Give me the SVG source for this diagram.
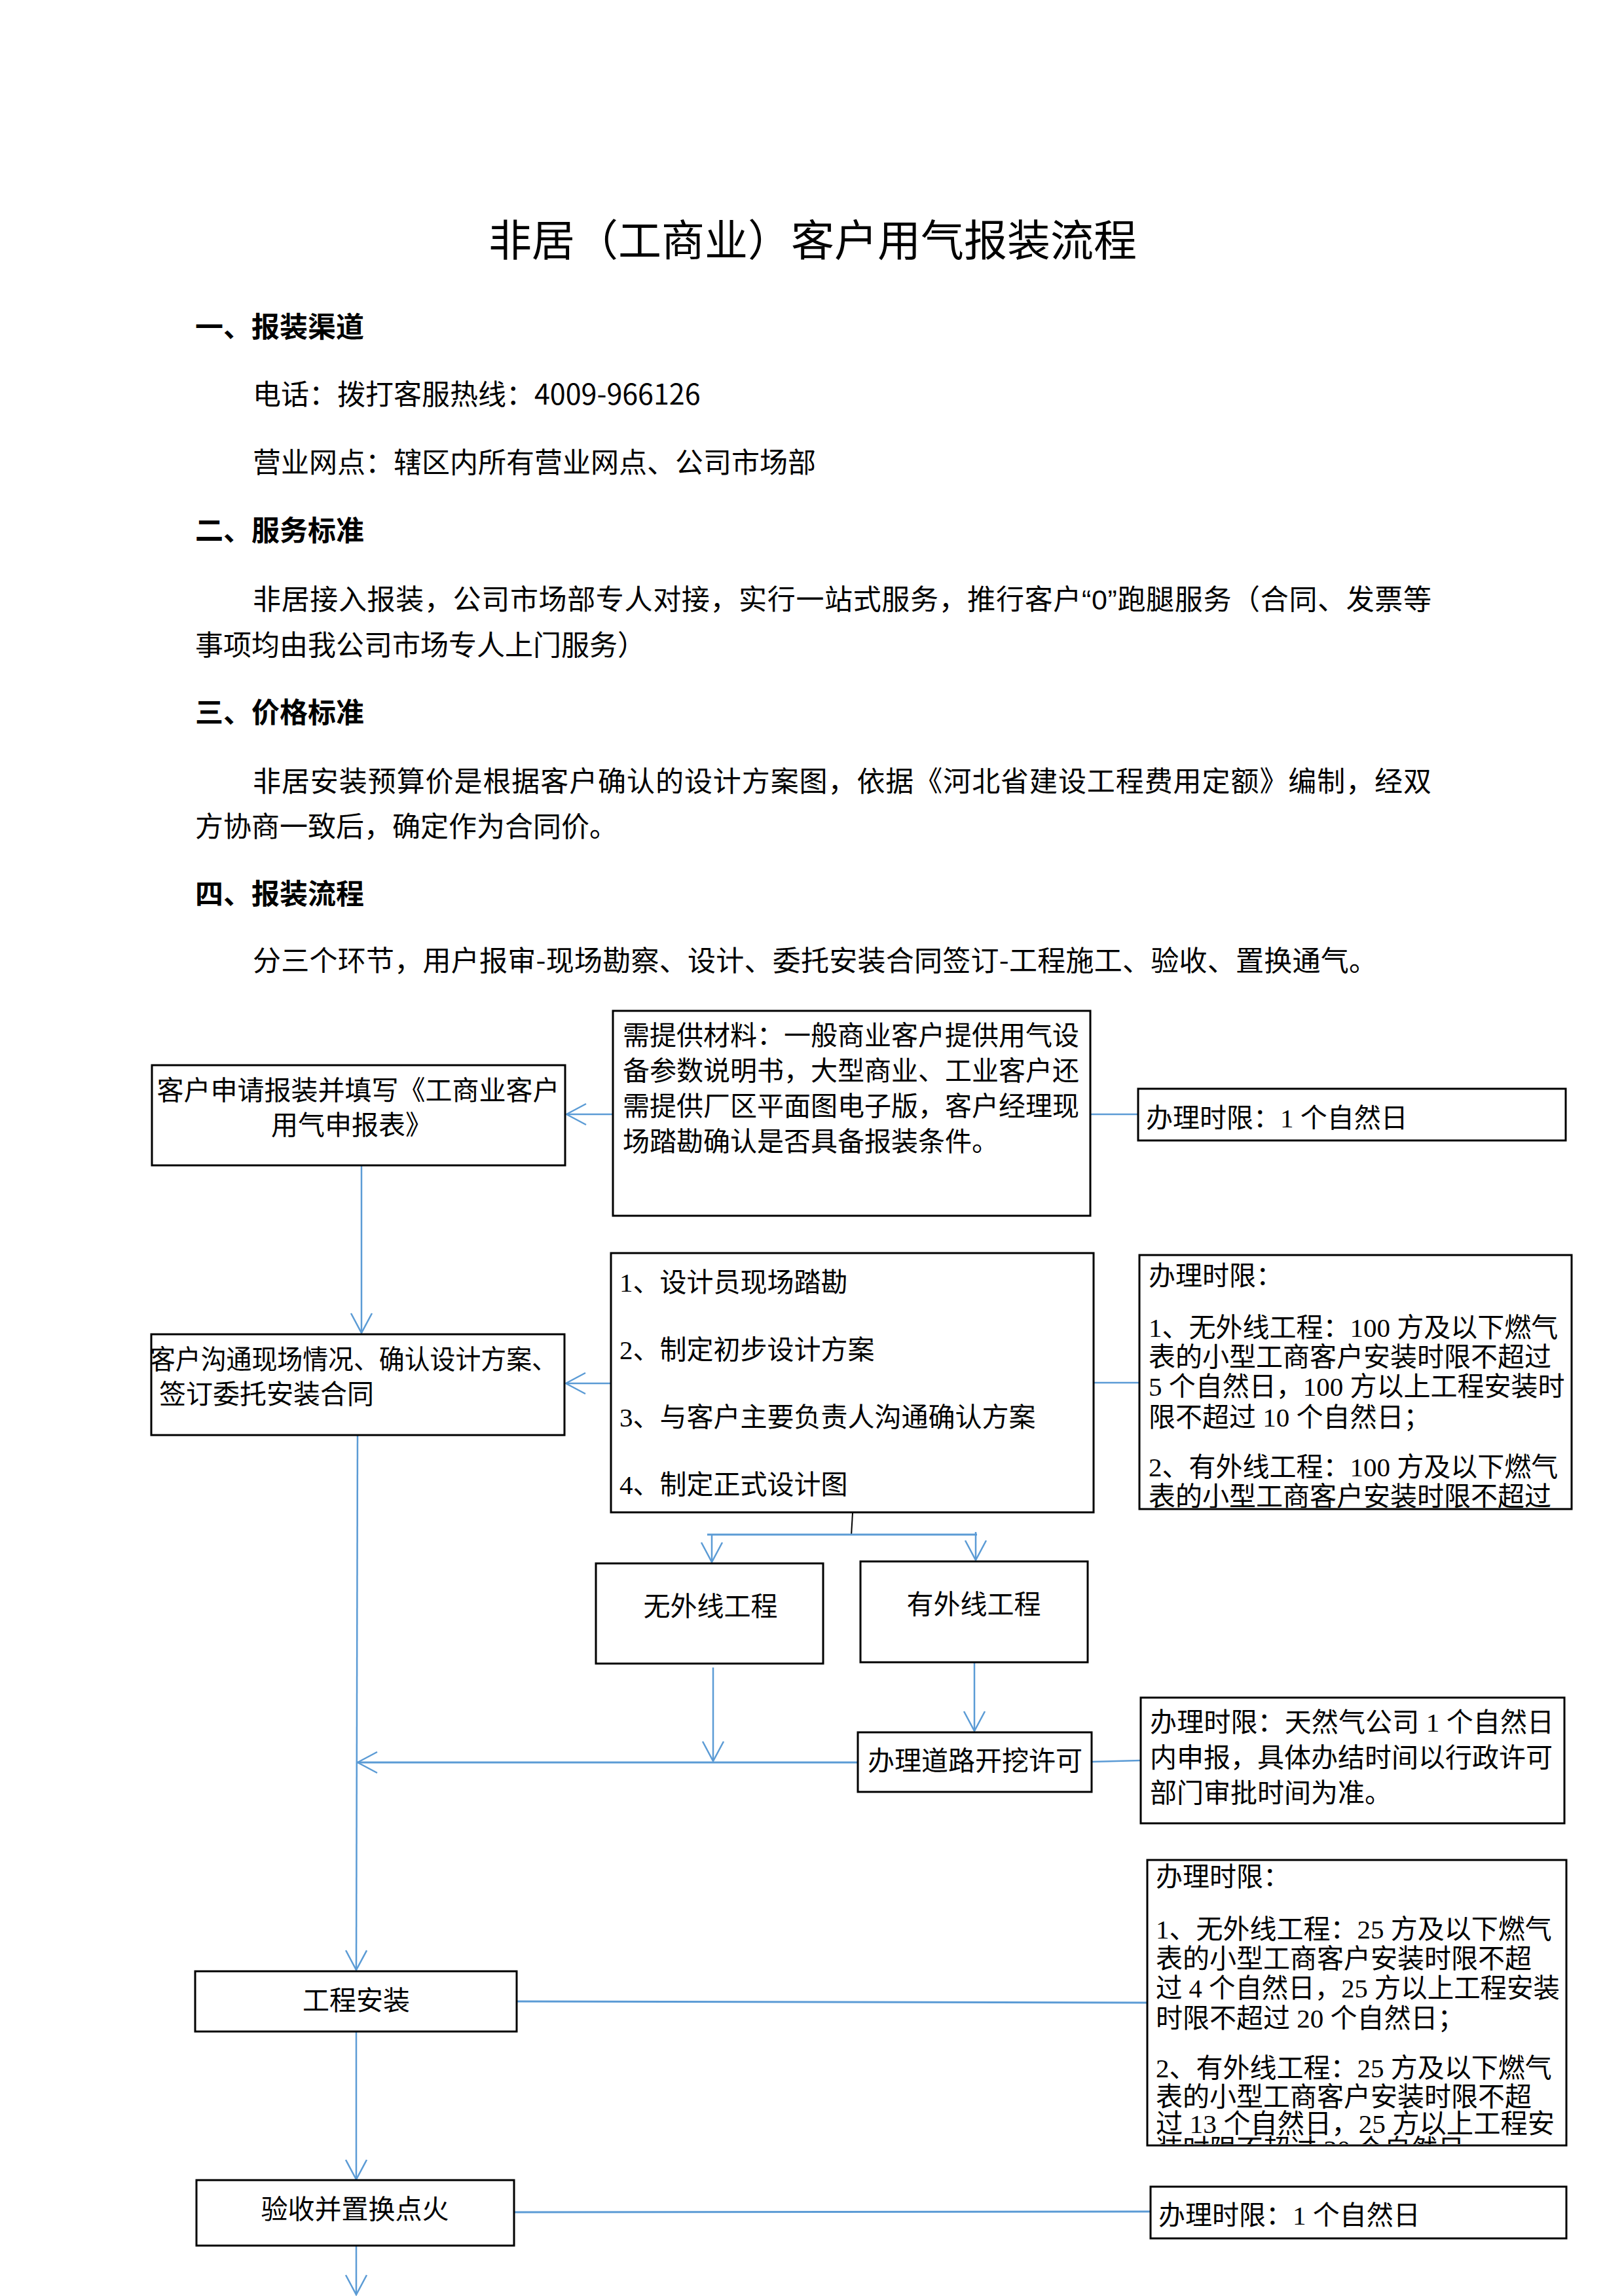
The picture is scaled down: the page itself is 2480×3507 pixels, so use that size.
<svg xmlns="http://www.w3.org/2000/svg" width="2480" height="3507" viewBox="0 0 2480 3507">
<style>
.box{fill:#fff;stroke:#000;stroke-width:3}
.h{font-family:"Noto Sans CJK SC",sans-serif;font-size:43px;font-weight:bold;fill:#000}
.b{font-family:"Noto Sans CJK SC",sans-serif;font-size:43px;fill:#000}
.q{font-family:"Liberation Sans",sans-serif}
.t{font-family:"Noto Sans CJK SC",sans-serif;font-size:41px;fill:#000}
.s{font-family:"Liberation Serif","Noto Sans CJK SC",serif;font-size:41px;fill:#000}
.c{stroke:#5B9BD5;stroke-width:2.5;fill:none}
.m{text-anchor:middle}
</style>
<defs>
<marker id="arr" viewBox="-34 -18 36 36" markerWidth="36" markerHeight="36" refX="0" refY="0" orient="auto" markerUnits="userSpaceOnUse">
<path d="M-30,-16 L0,0 L-30,16" fill="none" stroke="#5B9BD5" stroke-width="2.5"/>
</marker>
<clipPath id="clipL"><rect x="1753" y="2842" width="638" height="433"/></clipPath>
<clipPath id="clipF"><rect x="1741" y="1918" width="658" height="385"/></clipPath>
</defs>
<rect width="2480" height="3507" fill="#fff"/>

<g id="header">
<text x="1241" y="391" class="m" style="font-family:'Noto Sans CJK SC',sans-serif;font-size:66px;fill:#000">非居（工商业）客户用气报装流程</text>
<text x="298" y="515" class="h">一、报装渠道</text>
<text x="386" y="618" class="b">电话：拨打客服热线：4009-966126</text>
<text x="386" y="722" class="b">营业网点：辖区内所有营业网点、公司市场部</text>
<text x="298" y="826" class="h">二、服务标准</text>
<text x="386" y="931" class="b" textLength="1800" lengthAdjust="spacing">非居接入报装，公司市场部专人对接，实行一站式服务，推行客户<tspan class="q">“0”</tspan>跑腿服务（合同、发票等</text>
<text x="298" y="1001" class="b">事项均由我公司市场专人上门服务）</text>
<text x="298" y="1104" class="h">三、价格标准</text>
<text x="386" y="1209" class="b" textLength="1800" lengthAdjust="spacing">非居安装预算价是根据客户确认的设计方案图，依据《河北省建设工程费用定额》编制，经双</text>
<text x="298" y="1278" class="b">方协商一致后，确定作为合同价。</text>
<text x="298" y="1381" class="h">四、报装流程</text>
<text x="386" y="1483" class="b" textLength="1717" lengthAdjust="spacing">分三个环节，用户报审-现场勘察、设计、委托安装合同签订-工程施工、验收、置换通气。</text>
</g>

<g id="connectors">
<line class="c" x1="936" y1="1702" x2="865" y2="1702" marker-end="url(#arr)"/>
<line class="c" x1="1665" y1="1702" x2="1738" y2="1702"/>
<line class="c" x1="552" y1="1780" x2="552" y2="2036" marker-end="url(#arr)"/>
<line class="c" x1="933" y1="2113" x2="864" y2="2113" marker-end="url(#arr)"/>
<line class="c" x1="1670" y1="2112" x2="1740" y2="2112"/>
<line x1="1302" y1="2311" x2="1300" y2="2345" stroke="#000" stroke-width="2"/>
<line class="c" x1="1080" y1="2344" x2="1492" y2="2344" style="stroke-width:3"/>
<line class="c" x1="1087" y1="2344" x2="1087" y2="2386" marker-end="url(#arr)"/>
<line class="c" x1="1490" y1="2340" x2="1490" y2="2383" marker-end="url(#arr)"/>
<line class="c" x1="1089" y1="2547" x2="1089" y2="2690" marker-end="url(#arr)"/>
<line class="c" x1="1488" y1="2540" x2="1488" y2="2644" marker-end="url(#arr)"/>
<line class="c" x1="1310" y1="2692" x2="546" y2="2692" marker-end="url(#arr)" style="stroke-width:3"/>
<line class="c" x1="1667" y1="2691" x2="1742" y2="2689"/>
<line class="c" x1="546" y1="2192" x2="544" y2="3009" marker-end="url(#arr)"/>
<line class="c" x1="789" y1="3057" x2="1752" y2="3059" style="stroke-width:3"/>
<line class="c" x1="544" y1="3103" x2="544" y2="3329" marker-end="url(#arr)"/>
<line class="c" x1="785" y1="3379" x2="1757" y2="3378" style="stroke-width:3"/>
<line class="c" x1="544" y1="3430" x2="544" y2="3505" marker-end="url(#arr)"/>
</g>

<g id="nodeA">
<rect class="box" x="232" y="1627" width="631" height="153"/>
<text x="547" y="1680" class="t m">客户申请报装并填写《工商业客户</text>
<text x="537" y="1733" class="t m">用气申报表》</text>
</g>

<g id="nodeB">
<rect class="box" x="936" y="1544" width="729" height="313"/>
<text x="951" y="1596" class="t">需提供材料：一般商业客户提供用气设</text>
<text x="951" y="1650" class="t">备参数说明书，大型商业、工业客户还</text>
<text x="951" y="1704" class="t">需提供厂区平面图电子版，客户经理现</text>
<text x="951" y="1758" class="t">场踏勘确认是否具备报装条件。</text>
</g>

<g id="nodeC">
<rect class="box" x="1738" y="1663" width="653" height="79"/>
<text x="1750" y="1722" class="s">办理时限：1 个自然日</text>
</g>

<g id="nodeD">
<rect class="box" x="231" y="2038" width="631" height="154"/>
<text x="229" y="2091" class="t" textLength="622" lengthAdjust="spacingAndGlyphs">客户沟通现场情况、确认设计方案、</text>
<text x="243" y="2144" class="t">签订委托安装合同</text>
</g>

<g id="nodeE">
<rect class="box" x="933" y="1914" width="737" height="396"/>
<text x="946" y="1973" class="s">1、设计员现场踏勘</text>
<text x="946" y="2076" class="s">2、制定初步设计方案</text>
<text x="946" y="2179" class="s">3、与客户主要负责人沟通确认方案</text>
<text x="946" y="2282" class="s">4、制定正式设计图</text>
</g>

<g id="nodeF">
<rect class="box" x="1740" y="1917" width="660" height="388"/>
<g clip-path="url(#clipF)">
<text x="1754" y="1963" class="s">办理时限：</text>
<text x="1754" y="2042" class="s">1、无外线工程：100 方及以下燃气</text>
<text x="1754" y="2087" class="s">表的小型工商客户安装时限不超过</text>
<text x="1754" y="2132" class="s">5 个自然日，100 方以上工程安装时</text>
<text x="1754" y="2179" class="s">限不超过 10 个自然日；</text>
<text x="1754" y="2255" class="s">2、有外线工程：100 方及以下燃气</text>
<text x="1754" y="2300" class="s">表的小型工商客户安装时限不超过</text>
</g>
</g>

<g id="nodeG">
<rect class="box" x="910" y="2388" width="347" height="153"/>
<text x="1085" y="2468" class="t m">无外线工程</text>
</g>

<g id="nodeH">
<rect class="box" x="1314" y="2385" width="347" height="154"/>
<text x="1487" y="2465" class="t m">有外线工程</text>
</g>

<g id="nodeI">
<rect class="box" x="1310" y="2646" width="357" height="91"/>
<text x="1489" y="2704" class="s m">办理道路开挖许可</text>
</g>

<g id="nodeJ">
<rect class="box" x="1742" y="2593" width="647" height="192"/>
<text x="1756" y="2645" class="s" textLength="617" lengthAdjust="spacing">办理时限：天然气公司 1 个自然日</text>
<text x="1756" y="2699" class="s">内申报，具体办结时间以行政许可</text>
<text x="1756" y="2753" class="s">部门审批时间为准。</text>
</g>

<g id="nodeK">
<rect class="box" x="298" y="3011" width="491" height="92"/>
<text x="544" y="3070" class="t m">工程安装</text>
</g>

<g id="nodeL">
<rect class="box" x="1752" y="2841" width="640" height="436"/>
<g clip-path="url(#clipL)">
<text x="1765" y="2881" class="s">办理时限：</text>
<text x="1765" y="2961" class="s">1、无外线工程：25 方及以下燃气</text>
<text x="1765" y="3006" class="s">表的小型工商客户安装时限不超</text>
<text x="1765" y="3051" class="s" textLength="617" lengthAdjust="spacingAndGlyphs">过 4 个自然日，25 方以上工程安装</text>
<text x="1765" y="3097" class="s">时限不超过 20 个自然日；</text>
<text x="1765" y="3173" class="s">2、有外线工程：25 方及以下燃气</text>
<text x="1765" y="3217" class="s">表的小型工商客户安装时限不超</text>
<text x="1765" y="3258" class="s" textLength="609" lengthAdjust="spacingAndGlyphs">过 13 个自然日，25 方以上工程安</text>
<text x="1765" y="3297" class="s">装时限不超过 30 个自然日</text>
</g>
</g>

<g id="nodeM">
<rect class="box" x="300" y="3330" width="485" height="100"/>
<text x="542" y="3389" class="t m">验收并置换点火</text>
</g>

<g id="nodeN">
<rect class="box" x="1757" y="3340" width="635" height="79"/>
<text x="1769" y="3398" class="s">办理时限：1 个自然日</text>
</g>
</svg>
